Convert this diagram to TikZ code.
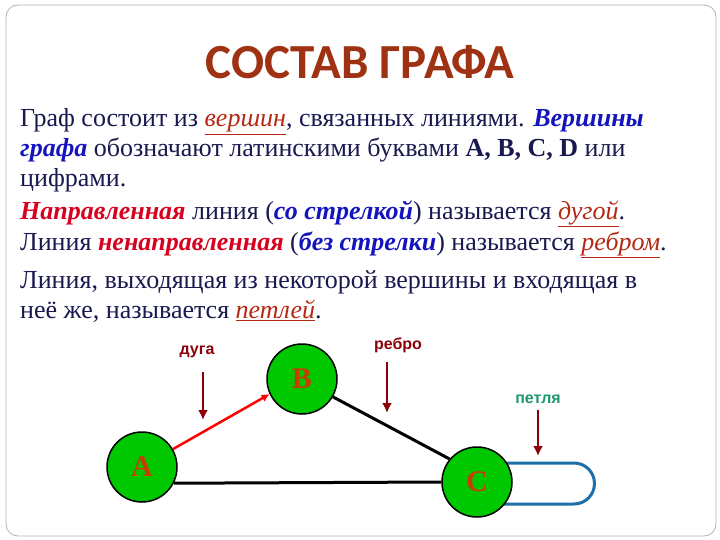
\documentclass[tikz,border=0pt]{standalone}
\usepackage{fontspec}
\setmainfont{Liberation Serif}
\newfontfamily\titlefont{Carlito}
\newfontfamily\labfont{Liberation Sans}
\usetikzlibrary{arrows.meta}
\definecolor{navy}{RGB}{25,25,80}
\definecolor{bluek}{RGB}{20,20,190}
\definecolor{redk}{RGB}{215,0,30}
\definecolor{ulred}{RGB}{180,40,20}
\definecolor{darkred}{RGB}{140,0,10}
\definecolor{titlec}{RGB}{160,50,20}
\definecolor{nodegreen}{RGB}{0,200,0}
\definecolor{letter}{RGB}{200,60,0}
\definecolor{loopblue}{RGB}{30,110,170}
\definecolor{teal}{RGB}{30,150,110}
\newcommand{\bl}[1]{\textcolor{bluek}{\bfseries\itshape #1}}
\newcommand{\rd}[1]{\textcolor{redk}{\bfseries\itshape #1}}
\newcommand{\ul}[1]{\textcolor{ulred}{\underline{\itshape #1}}}
\begin{document}
\begin{tikzpicture}[x=1pt,y=-1pt,
  line/.style={anchor=base west,inner sep=0pt,font=\fontsize{26}{28}\selectfont,text=navy},
  vert/.style={circle,draw=black,line width=1.5pt,fill=nodegreen,minimum size=70pt,inner sep=0pt,font=\fontsize{30}{34}\selectfont\bfseries,text=letter},
  lab/.style={font=\labfont\bfseries\fontsize{16}{18}\selectfont,inner sep=0pt},
  ptr/.style={darkred,line width=2.5pt,-{Latex[length=10pt,width=10pt]}}]
\useasboundingbox (0,0) rectangle (720,540);
\draw[gray!60,line width=0.8pt,rounded corners=12pt] (6,5) rectangle (716,536);
\node[font=\titlefont\bfseries\fontsize{49}{52}\selectfont,text=titlec] (title) at (360,62) {СОСТАВ ГРАФА};
\node[line] (l1) at (20,127) {Граф состоит из \ul{вершин}, связанных линиями. \bl{Вершины}};
\node[line] (l2) at (20,157) {\bl{графа} обозначают латинскими буквами \textbf{A, B, C, D} или};
\node[line] (l3) at (20,187) {цифрами.};
\node[line] (l4) at (20,219) {\rd{Направленная} линия (\bl{со стрелкой}) называется \ul{дугой}.};
\node[line] (l5) at (20,250) {Линия \rd{ненаправленная} (\bl{без стрелки}) называется \ul{ребром}.};
\node[line] (l6) at (20,288) {Линия, выходящая из некоторой вершины и входящая в};
\node[line] (l7) at (20,318) {неё же, называется \ul{петлей}.};
% loop
\draw[loopblue,line width=3pt] (480,463) -- (574,463) arc[start angle=-90,end angle=90,radius=20.5] -- (480,504);
\node[vert] (A) at (142,467) {A};
\node[vert] (B) at (302,379) {B};
\node[vert] (C) at (477,482) {C};
\draw[red,line width=2.5pt,-{Latex[length=8pt,width=8pt]}] (A.30) -- (B.205);
\draw[line width=3pt] (B.-30) -- (C.140);
\draw[line width=3pt] (A.-27) -- (C.180);
\node[lab,text=darkred] (dl) at (197,352) {дуга};
\node[lab,text=darkred] (rl) at (398,345) {ребро};
\node[lab,text=teal] (pl) at (538,399) {петля};
\coordinate (d1) at (203,372); \coordinate (d2) at (203,420);
\coordinate (r1) at (387,362); \coordinate (r2) at (387,413);
\coordinate (p1) at (538,410); \coordinate (p2) at (538,456);
\draw[ptr] (d1) -- (d2);
\draw[ptr] (r1) -- (r2);
\draw[ptr] (p1) -- (p2);
\end{tikzpicture}
\end{document}
